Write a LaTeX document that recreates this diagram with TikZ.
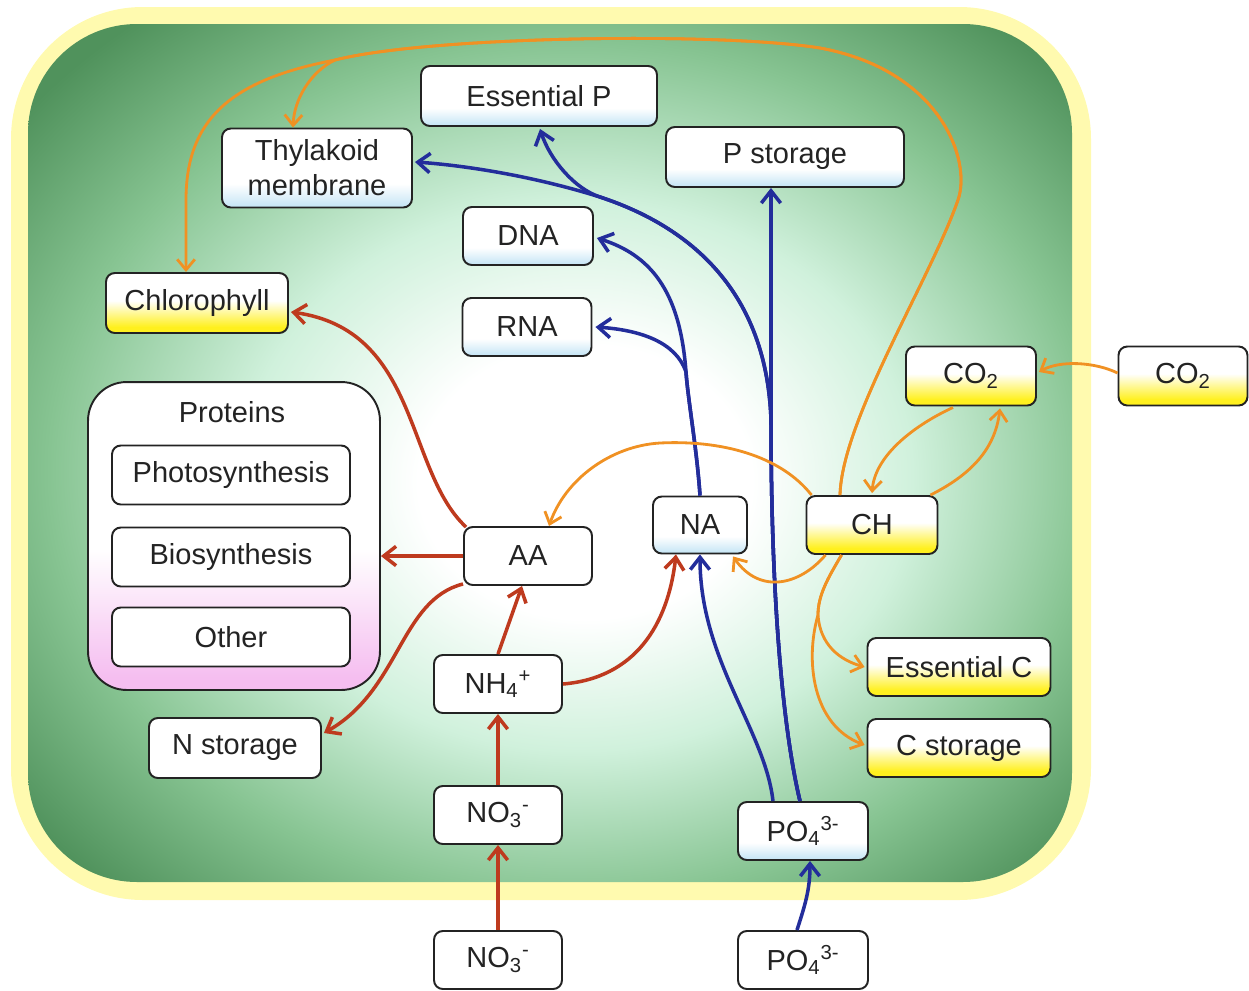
\documentclass[tikz,border=0pt]{standalone}
\usepackage{fontspec}
\setmainfont{Liberation Sans}
\usetikzlibrary{arrows.meta,calc}
\definecolor{cellD}{RGB}{80,146,92}
\definecolor{cellM}{RGB}{135,196,146}
\definecolor{cellL}{RGB}{208,241,220}
\definecolor{cellY}{RGB}{255,250,175}
\definecolor{boxB}{RGB}{195,228,245}
\definecolor{boxY}{RGB}{255,240,30}
\definecolor{boxP}{RGB}{245,190,240}
\definecolor{ink}{RGB}{35,35,35}
\definecolor{redA}{RGB}{190,58,30}
\definecolor{blueA}{RGB}{35,45,155}
\definecolor{orA}{RGB}{240,145,35}
\pgfdeclareradialshading{cellshade}{\pgfpoint{2bp}{-2bp}}{color(0bp)=(white); color(8bp)=(white); color(16bp)=(cellL); color(25bp)=(cellM); color(33bp)=(cellD); color(50bp)=(cellD)}
\pgfdeclareverticalshading{bshade}{100bp}{color(0bp)=(boxB); color(25bp)=(boxB); color(40bp)=(white); color(100bp)=(white)}
\pgfdeclareverticalshading{yshade}{100bp}{color(0bp)=(boxY); color(30bp)=(boxY); color(52bp)=(white); color(100bp)=(white)}
\pgfdeclareverticalshading{pshade}{100bp}{color(0bp)=(boxP); color(27bp)=(boxP); color(48bp)=(white); color(100bp)=(white)}
\newcommand\diagfont{\fontsize{16.5pt}{20pt}\selectfont}
\tikzset{
  bx/.style={draw=ink, line width=1.1pt, rounded corners=5pt, inner sep=0pt, text=ink, font=\diagfont, align=center},
  bl/.style={bx, shade, shading=bshade},
  yl/.style={bx, shade, shading=yshade},
  wh/.style={bx, fill=white},
  ra/.style={draw=redA, line width=2pt, -{Straight Barb[length=7pt,width=11pt]}},
  ba/.style={draw=blueA, line width=2pt, -{Straight Barb[length=7pt,width=11pt]}},
  oa/.style={draw=orA, line width=1.6pt, -{Straight Barb[length=6pt,width=10pt]}}
}
\begin{document}
\begin{tikzpicture}[x=0.02cm,y=-0.02cm]
\useasboundingbox (0,0) rectangle (1249,991);
% cell background
\fill[cellY, rounded corners=75pt] (11,7) rectangle (1091,900);
\shade[shading=cellshade, rounded corners=62pt] (28,24) rectangle (1072,882);

% nodes
\node[bl, minimum width=4.72cm, minimum height=1.2cm] (ep) at (539,96) {Essential P};
\node[bl, minimum width=3.8cm, minimum height=1.58cm] (thy) at (317,168) {Thylakoid\\membrane};
\node[bl, minimum width=4.76cm, minimum height=1.2cm] (pst) at (785,157) {P storage};
\node[bl, minimum width=2.6cm, minimum height=1.16cm] (dna) at (528,236) {DNA};
\node[bl, minimum width=2.58cm, minimum height=1.16cm] (rna) at (527,327) {RNA};
\node[yl, minimum width=3.64cm, minimum height=1.2cm] (chl) at (197,303) {Chlorophyll};
\node[yl, minimum width=2.6cm, minimum height=1.18cm] (co2i) at (971,376) {CO\textsubscript{2}};
\node[yl, minimum width=2.58cm, minimum height=1.18cm] (co2o) at (1183,376) {CO\textsubscript{2}};
\node[bx, shade, shading=pshade, rounded corners=22pt, minimum width=5.84cm, minimum height=6.16cm] (prot) at (234,536) {};
\node[text=ink, font=\diagfont] (protl) at (232,412) {Proteins};
\node[wh, minimum width=4.76cm, minimum height=1.18cm] (ph) at (231,475) {Photosynthesis};
\node[wh, minimum width=4.76cm, minimum height=1.18cm] (bio) at (231,557) {Biosynthesis};
\node[wh, minimum width=4.76cm, minimum height=1.18cm] (oth) at (231,637) {Other};
\node[wh, minimum width=2.56cm, minimum height=1.16cm] (aa) at (528,556) {AA};
\node[bl, minimum width=1.88cm, minimum height=1.14cm] (na) at (700,525) {NA};
\node[yl, minimum width=2.62cm, minimum height=1.16cm] (ch) at (872,525) {CH};
\node[wh, minimum width=2.56cm, minimum height=1.16cm] (nh4) at (498,684) {NH\textsubscript{4}\textsuperscript{+}};
\node[wh, minimum width=3.44cm, minimum height=1.2cm] (nst) at (235,748) {N storage};
\node[yl, minimum width=3.66cm, minimum height=1.16cm] (ec) at (959,667) {Essential C};
\node[yl, minimum width=3.66cm, minimum height=1.16cm] (cs) at (959,748) {C storage};
\node[wh, minimum width=2.56cm, minimum height=1.16cm] (no3i) at (498,815) {NO\textsubscript{3}\textsuperscript{-}};
\node[bl, minimum width=2.6cm, minimum height=1.16cm] (po4i) at (803,831) {PO\textsubscript{4}\textsuperscript{3-}};
\node[wh, minimum width=2.56cm, minimum height=1.16cm] (no3o) at (498,960) {NO\textsubscript{3}\textsuperscript{-}};
\node[wh, minimum width=2.6cm, minimum height=1.16cm] (po4o) at (803,960) {PO\textsubscript{4}\textsuperscript{3-}};

% red connectors
\draw[ra] (no3o.north) -- (no3i.south);
\draw[ra] (no3i.north) -- (nh4.south);
\draw[ra] (nh4.north) -- ($(aa.south)+(-6,0)$);
\draw[ra] (nh4.east) .. controls (635,678) and (668,625) .. ($(na.south)+(-24,0)$);
\draw[ra] (aa.west) -- (aa.west -| prot.east);
\draw[ra] ($(aa.north west)+(3,1)$) .. controls (405,470) and (420,330) .. ($(chl.east)+(2,9)$);
\draw[ra] ($(aa.south west)+(0,-2)$) .. controls (400,600) and (400,690) .. ($(nst.east)+(2,-15)$);

% blue connectors
\draw[ba] ($(po4o.north)+(-6,0)$) .. controls (805,905) and (810,890) .. ($(po4i.south)+(7,0)$);
\draw[ba] ($(po4i.north)+(-30,0)$) .. controls (765,730) and (700,660) .. (na.south);
\draw[ba] ($(po4i.north)+(-3,0)$) .. controls (783,730) and (771,600) .. (771,420) -- ($(pst.south)+(-14,0)$);
\draw[ba] ($(po4i.north)+(-3,0)$) .. controls (783,730) and (771,600) .. (771,420) .. controls (767,300) and (700,230) .. (600,197) .. controls (530,175) and (460,165) .. ($(thy.east)+(2,-6)$);
\draw[ba] ($(po4i.north)+(-3,0)$) .. controls (783,730) and (771,600) .. (771,420) .. controls (767,300) and (700,230) .. (600,197) .. controls (575,189) and (550,160) .. ($(ep.south)+(1,2)$);
\draw[ba] (na.north) .. controls (697,450) and (688,400) .. (686,372) .. controls (680,290) and (650,255) .. ($(dna.east)+(3,2)$);
\draw[ba] (na.north) .. controls (697,450) and (688,400) .. (686,372) .. controls (676,342) and (640,330) .. ($(rna.east)+(3,0)$);

% orange connectors
\draw[oa] ($(co2o.west)+(0,-3)$) .. controls (1095,362) and (1060,360) .. ($(co2i.east)+(2,-4)$);
\draw[oa] ($(co2i.south)+(-18,1)$) .. controls (915,425) and (875,455) .. ($(ch.north)+(0,-2)$);
\draw[oa] ($(ch.north east)+(-8,0)$) .. controls (970,475) and (995,450) .. ($(co2i.south)+(29,2)$);
\draw[oa] ($(ch.north)+(-32,0)$) .. controls (842,420) and (930,280) .. (958,200) .. controls (972,160) and (940,70) .. (820,48) .. controls (720,32) and (430,36) .. (335,60) .. controls (310,72) and (294,100) .. ($(thy.north)+(-24,0)$);
\draw[oa] ($(ch.north)+(-32,0)$) .. controls (842,420) and (930,280) .. (958,200) .. controls (972,160) and (940,70) .. (820,48) .. controls (720,32) and (430,36) .. (335,60) .. controls (230,80) and (186,120) .. (186,200) -- ($(chl.north)+(-11,0)$);
\draw[oa] ($(ch.north west)+(6,0)$) .. controls (780,455) and (720,440) .. (660,443) .. controls (610,446) and (565,480) .. ($(aa.north)+(21,0)$);
\draw[oa] ($(ch.south west)+(20,0)$) .. controls (800,585) and (760,595) .. ($(na.south)+(33,2)$);
\draw[oa] ($(ch.south west)+(36,0)$) .. controls (828,578) and (818,595) .. (818,615) .. controls (820,645) and (840,660) .. ($(ec.west)+(-2,0)$);
\draw[oa] ($(ch.south west)+(36,0)$) .. controls (828,578) and (818,595) .. (818,615) .. controls (805,660) and (812,725) .. ($(cs.west)+(-2,-3)$);
\end{tikzpicture}
\end{document}
